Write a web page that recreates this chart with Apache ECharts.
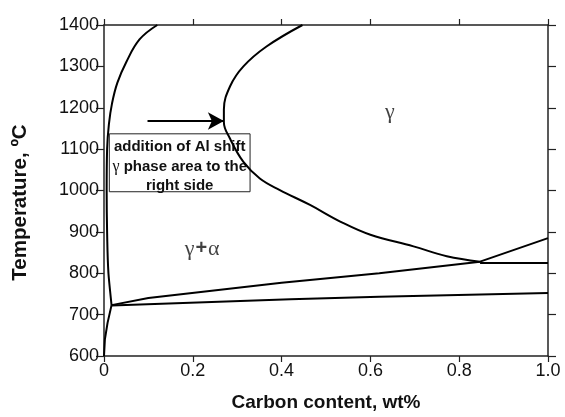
<!DOCTYPE html>
<html>
<head>
<meta charset="utf-8">
<script src="https://cdn.jsdelivr.net/npm/echarts@6/dist/echarts.min.js"></script>
<style>
html,body{margin:0;padding:0;background:#fff;}
#chart{width:565px;height:417px;}
</style>
</head>
<body>
<div id="chart"></div>
<script>
// ---- data (carbon wt%, temperature °C) ----
var xTicks = [0, 0.2, 0.4, 0.6, 0.8, 1.0];
var xTickLabels = ['0', '0.2', '0.4', '0.6', '0.8', '1.0'];
var yTicks = [600, 700, 800, 900, 1000, 1100, 1200, 1300, 1400];
var yTickLabels = ['600', '700', '800', '900', '1000', '1100', '1200', '1300', '1400'];

// alpha / gamma+alpha boundary (left curve)
var alphaUpperC = [0.120, 0.080, 0.050, 0.030, 0.018, 0.011, 0.007, 0.006, 0.007, 0.010, 0.017];
var alphaUpperT = [1400, 1365, 1310, 1260, 1210, 1160, 1100, 1000, 900, 800, 723];
var alphaLowerC = [0.017, 0.008, 0.002, 0.000];
var alphaLowerT = [723, 680, 640, 600];

// gamma boundary (C-shaped curve)
var gammaC = [0.447, 0.366, 0.314, 0.284, 0.270, 0.270, 0.284, 0.314, 0.351, 0.396, 0.464, 0.532, 0.600, 0.697, 0.772, 0.847];
var gammaT = [1400, 1348, 1300, 1252, 1196, 1165, 1125, 1069, 1029, 1001, 965, 925, 893, 865, 841, 828];

// upper straight line from junction through to right edge
var upperLineC = [0.017, 0.10, 0.40, 0.62, 0.847, 1.0];
var upperLineT = [723, 740, 777, 800, 828, 885];

// lower line
var lowerLineC = [0.017, 0.42, 0.62, 1.0];
var lowerLineT = [722, 737, 743, 752];

// horizontal line to right edge
var horizC = [0.847, 1.0];
var horizT = [825, 825];

// annotation arrow and box (data coordinates)
var arrowC = [0.098, 0.270];
var arrowT = [1168, 1168];
var boxC = [0.012, 0.329];
var boxT = [1137, 997];
var boxText = ['addition of Al shift', '{g|γ} phase area to the', 'right side'];

// phase region labels
var regionLabels = ['{g|γ}', '{g|γ}{p|+}{g|α}'];
var regionC = [0.644, 0.221];
var regionT = [1189, 859];

function zip(a, b) { return a.map(function (v, i) { return [v, b[i]]; }); }
function lookup(ticks, labels, v) {
  for (var i = 0; i < ticks.length; i++) { if (Math.abs(ticks[i] - v) < 1e-6) return labels[i]; }
  return '';
}

var lineStyle = { color: '#000', width: 2 };
function curve(c, t, smooth) {
  return {
    type: 'line', data: zip(c, t), showSymbol: false, symbol: 'none',
    smooth: smooth ? 0.4 : false, lineStyle: lineStyle, silent: true,
    xAxisIndex: 0, yAxisIndex: 0, z: 3
  };
}

var axisCol = '#222';
var sans = 'Liberation Sans, Arial, sans-serif';
var serif = 'Liberation Serif, Times New Roman, serif';
var chart = echarts.init(document.getElementById('chart'), null, { renderer: 'canvas' });

var option = {
  animation: false,
  backgroundColor: '#fff',
  grid: { left: 104, right: 17, top: 25, bottom: 58, containLabel: false },
  xAxis: [{
    type: 'value', min: 0, max: 1, interval: 0.2, position: 'bottom',
    name: 'Carbon content, wt%', nameLocation: 'middle', nameGap: 37,
    nameTextStyle: { fontFamily: sans, fontWeight: 'bold', fontSize: 19, color: '#111' },
    axisLine: { show: true, onZero: false, lineStyle: { color: axisCol, width: 1.5 } },
    axisTick: { show: true, inside: false, length: 6, lineStyle: { color: axisCol, width: 1.2 } },
    axisLabel: { fontFamily: sans, fontSize: 18, color: '#111', margin: 6,
      formatter: function (v) { return lookup(xTicks, xTickLabels, v); } },
    splitLine: { show: false }
  }, {
    type: 'value', min: 0, max: 1, interval: 0.2, position: 'top',
    axisLine: { show: true, onZero: false, lineStyle: { color: axisCol, width: 1.5 } },
    axisTick: { show: true, inside: false, length: 6, lineStyle: { color: axisCol, width: 1.2 } },
    axisLabel: { show: false }, splitLine: { show: false }
  }],
  yAxis: [{
    type: 'value', min: 600, max: 1400, interval: 100, position: 'left',
    name: 'Temperature, ºC', nameLocation: 'middle', nameGap: 73,
    nameTextStyle: { fontFamily: sans, fontWeight: 'bold', fontSize: 20.5, color: '#111', padding: [0, 24, 0, 0] },
    axisLine: { show: true, onZero: false, lineStyle: { color: axisCol, width: 1.5 } },
    axisTick: { show: true, inside: false, length: 8, lineStyle: { color: axisCol, width: 1.2 } },
    axisLabel: { fontFamily: sans, fontSize: 18, color: '#111', margin: 5,
      formatter: function (v) { return lookup(yTicks, yTickLabels, v); } },
    splitLine: { show: false }
  }, {
    type: 'value', min: 600, max: 1400, interval: 100, position: 'right',
    axisLine: { show: true, onZero: false, lineStyle: { color: axisCol, width: 1.5 } },
    axisTick: { show: true, inside: false, length: 8, lineStyle: { color: axisCol, width: 1.2 } },
    axisLabel: { show: false }, splitLine: { show: false }
  }],
  series: [
    curve(alphaUpperC, alphaUpperT, true),
    curve(alphaLowerC, alphaLowerT, false),
    curve(gammaC, gammaT, true),
    curve(upperLineC, upperLineT, false),
    curve(lowerLineC, lowerLineT, false),
    curve(horizC, horizT, false),
    {
      type: 'line', data: [], xAxisIndex: 0, yAxisIndex: 0, silent: true,
      markLine: {
        silent: true, animation: false,
        symbol: ['none', 'arrow'], symbolSize: [13, 16],
        lineStyle: { color: '#000', width: 2, type: 'solid' },
        label: { show: false },
        data: [[{ coord: [arrowC[0], arrowT[0]] }, { coord: [arrowC[1], arrowT[1]] }]]
      },
      markArea: {
        silent: true,
        itemStyle: { color: 'rgba(0,0,0,0)', borderColor: '#222', borderWidth: 1 },
        label: {
          show: true, position: 'inside', formatter: boxText.join('\n'),
          fontFamily: sans, fontWeight: 'bold', fontSize: 15, lineHeight: 19.5, color: '#111', align: 'center',
          padding: [8, 0, 0, 0],
          rich: { g: { fontFamily: serif, fontWeight: 'normal', fontSize: 16, lineHeight: 19.5, color: '#111' } }
        },
        data: [[{ coord: [boxC[0], boxT[0]] }, { coord: [boxC[1], boxT[1]] }]]
      }
    },
    {
      type: 'scatter', xAxisIndex: 0, yAxisIndex: 0, symbolSize: 0, silent: true,
      data: regionLabels.map(function (l, i) { return { value: [regionC[i], regionT[i]], name: l }; }),
      label: {
        show: true, position: 'inside', formatter: function (p) { return p.name; },
        rich: {
          g: { fontFamily: serif, fontSize: 22, color: '#111' },
          p: { fontFamily: sans, fontWeight: 'bold', fontSize: 20, color: '#111', padding: [0, 1, 0, 1] }
        }
      }
    }
  ]
};
chart.setOption(option);
</script>
</body>
</html>
